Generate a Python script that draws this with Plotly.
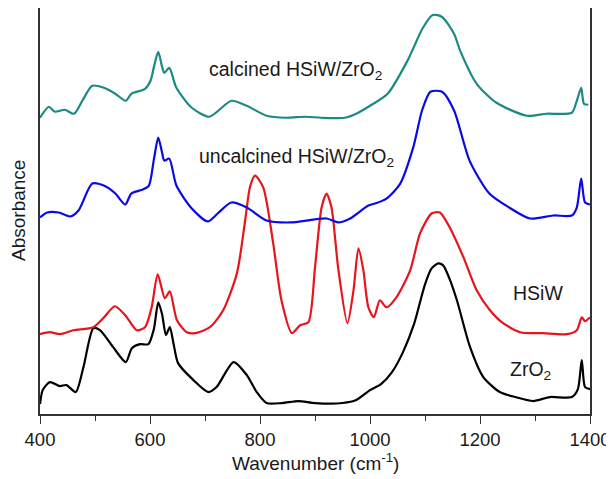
import plotly.graph_objects as go

# ZrO2 (black)
zro2_w = [400,405,418,436,448,465,479,497,509,533,556,567,582,597,607,615,622,629,636,643,651,679,706,721,752,776,794,812,840,870,900,950,975,1000,1020,1040,1060,1080,1100,1112,1124,1133,1145,1158,1182,1206,1236,1264,1297,1327,1367,1378,1385,1391,1400]
zro2_a = [10,24,32,28,29,22,47,86,84,67,52,66,70,70,85,112,100,79,87,70,51,34,22,27,52,39,22,11,11,13,11,11,14,24,30,42,62,90,130,146,151,149,135,114,67,37,22,17,13,17,17,25,54,27,25]

# HSiW (red)
hsiw_w = [400,418,436,461,497,515,536,555,576,591,603,614,627,636,649,667,682,709,733,758,773,782,791,806,824,839,858,873,888,900,912,921,930,942,959,970,979,988,997,1007,1018,1030,1048,1073,1091,1112,1127,1145,1170,1194,1218,1242,1273,1315,1358,1376,1385,1391,1400]
hsiw_a = [80,82,80,84,87,96,108,99,84,87,107,140,116,123,94,82,81,87,104,141,194,228,239,227,171,114,81,89,92,147,207,221,207,147,91,124,166,144,107,97,114,107,117,144,181,201,202,187,157,124,104,91,82,81,80,84,97,93,97]

# uncalcined HSiW/ZrO2 (blue)
unc_w = [400,413,434,455,470,495,516,537,555,566,587,598,607,615,622,626,635,648,676,705,723,748,776,812,855,921,942,964,997,1009,1030,1055,1079,1095,1110,1131,1153,1181,1217,1253,1291,1333,1367,1376,1384,1391,1400]
unc_a = [197,202,202,198,204,231,229,221,210,221,225,229,255,277,262,254,256,229,206,193,201,212,207,194,192,196,192,196,209,211,216,231,268,305,323,323,304,254,221,207,196,199,199,207,236,212,210]

# calcined HSiW/ZrO2 (teal)
cal_w = [400,416,427,445,462,477,495,516,537,556,566,591,601,608,615,622,626,635,648,676,708,748,776,812,847,883,911,954,975,1000,1032,1068,1096,1114,1131,1153,1164,1194,1230,1285,1321,1367,1376,1384,1389,1397]
cal_a = [297,308,303,305,301,314,329,327,321,314,321,326,334,350,363,348,342,347,327,307,298,314,309,299,297,298,297,297,301,309,321,354,387,400,398,381,364,331,312,299,301,302,314,327,311,310]

x_ticks = [400, 600, 800, 1000, 1200, 1400]

labels = ["calcined HSiW/ZrO<sub>2</sub>", "uncalcined HSiW/ZrO<sub>2</sub>", "HSiW", "ZrO<sub>2</sub>"]
label_x = [864, 866, 1305, 1292]
label_y = [344, 257, 121, 44]

series = [
    (zro2_w, zro2_a, "#000000", "ZrO2"),
    (hsiw_w, hsiw_a, "#e8131b", "HSiW"),
    (unc_w, unc_a, "#0a0ae6", "uncalcined"),
    (cal_w, cal_a, "#1b8a82", "calcined"),
]

FONT = "Liberation Sans, Arial, sans-serif"
TXT = "#1a1a1a"
fig = go.Figure()
for w, a, c, n in series:
    fig.add_trace(go.Scatter(x=w, y=a, mode="lines", name=n,
                             line=dict(color=c, width=2.2, shape="spline", smoothing=0.7),
                             showlegend=False, hoverinfo="skip"))

for t, x, y in zip(labels, label_x, label_y):
    fig.add_annotation(x=x, y=y, text=t, showarrow=False,
                       font=dict(family=FONT, size=19.5, color=TXT))

# axis titles
fig.add_annotation(xref="paper", yref="paper", x=0.5, y=-0.118, yanchor="middle",
                   text="Wavenumber (cm<sup>-1</sup>)", showarrow=False,
                   font=dict(family=FONT, size=19, color=TXT))
fig.add_annotation(xref="paper", yref="paper", x=-0.04, y=0.5, xanchor="center", yanchor="middle",
                   textangle=-90, text="Absorbance", showarrow=False,
                   font=dict(family=FONT, size=19, color=TXT))

# the page body has an 8px default margin; size the figure so it fits the window
fig.update_layout(
    width=606, height=471,
    margin=dict(l=32, r=24, t=0, b=65, autoexpand=False),
    paper_bgcolor="white", plot_bgcolor="white",
    font=dict(family=FONT, color=TXT),
)
fig.update_xaxes(
    range=[400, 1400], tickvals=x_ticks, ticktext=[str(v) for v in x_ticks],
    ticks="outside", ticklen=8, tickwidth=1.3, tickcolor="#333",
    minor=dict(dtick=100, tick0=400, ticks="outside", ticklen=5, tickwidth=1.3, tickcolor="#333"),
    showline=True, mirror=True, linecolor="#333", linewidth=1.5,
    showgrid=False, zeroline=False, automargin=False,
    tickfont=dict(size=18.5, family=FONT, color=TXT),
)
fig.update_yaxes(
    range=[0, 407], showticklabels=False, ticks="",
    showline=True, mirror=True, linecolor="#333", linewidth=1.5,
    showgrid=False, zeroline=False, automargin=False,
)
fig.write_html("out.html")
